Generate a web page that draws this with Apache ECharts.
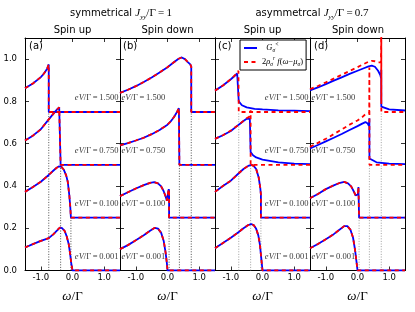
<!DOCTYPE html>
<html><head><meta charset="utf-8">
<script src="https://cdn.jsdelivr.net/npm/echarts@6/dist/echarts.min.js"></script>
<style>html,body{margin:0;padding:0;background:#fff}#c{width:415px;height:312px}</style>
</head><body><div id="c"></div>
<script>
// ---------- data ----------
const xTickVals = [-1.0, 0.0, 1.0];
const yTickVals = [0.0, 0.2, 0.4, 0.6, 0.8, 1.0];
const biasLabels = ['1.500', '0.750', '0.100', '0.001'];
const curveOffsets = [0.75, 0.5, 0.25, 0.0];
const muUp = [-0.75, -0.375, -0.05];
const muDown = [0.75, 0.375, 0.05];
const muLevels = [0.75, 0.5, 0.25];

// (a) symmetrical, spin up (G and 2rho f coincide)
const a1500 = [[-1.5,0.862],[-1.25,0.885],[-1.0,0.915],[-0.9,0.932],[-0.8,0.955],[-0.75,0.975],[-0.75,0.75],[1.5,0.75]];
const a0750 = [[-1.5,0.615],[-1.25,0.638],[-1.0,0.668],[-0.75,0.715],[-0.6,0.742],[-0.5,0.76],[-0.42,0.772],[-0.375,0.775],[-0.375,0.5],[1.5,0.5]];
const a0100 = [[-1.5,0.372],[-1.25,0.395],[-1.0,0.42],[-0.75,0.452],[-0.6,0.473],[-0.5,0.486],[-0.42,0.493],[-0.35,0.49],[-0.28,0.478],[-0.2,0.45],[-0.15,0.42],[-0.1,0.355],[-0.07,0.3],[-0.05,0.25],[1.5,0.25]];
const a0001 = [[-1.5,0.109],[-1.25,0.125],[-1.0,0.14],[-0.75,0.153],[-0.6,0.172],[-0.5,0.188],[-0.4,0.203],[-0.33,0.2],[-0.25,0.188],[-0.18,0.16],[-0.12,0.125],[-0.08,0.085],[-0.04,0.035],[0.0,0.0],[1.5,0.0]];
// (b) symmetrical, spin down
const b1500 = [[-1.5,0.84],[-1.25,0.855],[-1.0,0.872],[-0.75,0.892],[-0.5,0.913],[-0.25,0.937],[0.0,0.962],[0.2,0.985],[0.35,1.002],[0.45,1.008],[0.55,1.0],[0.65,0.985],[0.72,0.975],[0.75,0.965],[0.75,0.75],[1.5,0.75]];
const b0750 = [[-1.5,0.592],[-1.25,0.603],[-1.0,0.615],[-0.75,0.628],[-0.5,0.645],[-0.25,0.665],[0.0,0.69],[0.1,0.705],[0.2,0.725],[0.3,0.75],[0.36,0.768],[0.375,0.768],[0.375,0.5],[1.5,0.5]];
const b0100 = [[-1.5,0.352],[-1.25,0.37],[-1.0,0.388],[-0.75,0.404],[-0.55,0.415],[-0.42,0.418],[-0.3,0.412],[-0.2,0.398],[-0.12,0.375],[-0.06,0.35],[-0.02,0.33],[0.0,0.335],[0.02,0.37],[0.04,0.385],[0.05,0.375],[0.05,0.25],[1.5,0.25]];
const b0001 = [[-1.5,0.101],[-1.25,0.12],[-1.0,0.143],[-0.75,0.167],[-0.55,0.188],[-0.4,0.202],[-0.3,0.198],[-0.2,0.178],[-0.12,0.14],[-0.06,0.085],[-0.02,0.035],[0.0,0.0],[1.5,0.0]];
// (c) asymmetrical, spin up
const c1500G = [[-1.5,0.851],[-1.25,0.875],[-1.0,0.905],[-0.9,0.918],[-0.8,0.932],[-0.77,0.928],[-0.75,0.8],[-0.72,0.795],[-0.65,0.782],[-0.5,0.772],[-0.25,0.765],[0.0,0.762],[0.5,0.758],[1.0,0.756],[1.5,0.754]];
const c1500F = [[-1.5,0.851],[-1.25,0.875],[-1.0,0.905],[-0.9,0.92],[-0.8,0.935],[-0.76,0.945],[-0.75,0.75],[1.5,0.75]];
const c0750G = [[-1.5,0.623],[-1.25,0.64],[-1.0,0.66],[-0.75,0.69],[-0.6,0.707],[-0.5,0.718],[-0.45,0.722],[-0.4,0.718],[-0.375,0.71],[-0.375,0.56],[-0.35,0.555],[-0.3,0.545],[-0.2,0.535],[0.0,0.525],[0.5,0.512],[1.0,0.506],[1.5,0.503]];
const c0750F = [[-1.5,0.623],[-1.25,0.64],[-1.0,0.662],[-0.75,0.69],[-0.6,0.708],[-0.5,0.72],[-0.42,0.728],[-0.38,0.74],[-0.375,0.758],[-0.375,0.5],[1.5,0.5]];
const c0100 = [[-1.5,0.372],[-1.25,0.4],[-1.0,0.425],[-0.75,0.46],[-0.6,0.48],[-0.45,0.495],[-0.35,0.5],[-0.28,0.495],[-0.2,0.48],[-0.12,0.44],[-0.07,0.39],[-0.05,0.36],[-0.05,0.25],[1.5,0.25]];
const c0001 = [[-1.5,0.105],[-1.25,0.13],[-1.0,0.155],[-0.75,0.182],[-0.6,0.2],[-0.45,0.215],[-0.36,0.22],[-0.28,0.215],[-0.2,0.197],[-0.13,0.165],[-0.08,0.12],[-0.04,0.06],[0.0,0.0],[1.5,0.0]];
// (d) asymmetrical, spin down
const d1500G = [[-1.5,0.852],[-1.25,0.866],[-1.0,0.882],[-0.75,0.898],[-0.5,0.914],[-0.25,0.93],[0.0,0.945],[0.2,0.957],[0.35,0.966],[0.45,0.969],[0.55,0.964],[0.65,0.945],[0.72,0.925],[0.745,0.91],[0.75,0.95],[0.752,0.775],[0.8,0.768],[1.0,0.762],[1.5,0.757]];
const d1500F = [[-1.5,0.858],[-1.25,0.873],[-1.0,0.89],[-0.75,0.908],[-0.5,0.926],[-0.25,0.944],[0.0,0.962],[0.2,0.977],[0.35,0.988],[0.45,0.992],[0.55,0.99],[0.65,0.985],[0.74,0.985],[0.75,1.2],[0.751,0.8],[0.752,1.2],[0.753,0.75],[1.5,0.75]];
const d0750G = [[-1.5,0.577],[-1.25,0.594],[-1.0,0.611],[-0.75,0.628],[-0.5,0.646],[-0.25,0.665],[0.0,0.683],[0.15,0.695],[0.25,0.702],[0.32,0.695],[0.36,0.685],[0.375,0.72],[0.377,0.53],[0.4,0.522],[0.6,0.512],[1.0,0.506],[1.5,0.503]];
const d0750F = [[-1.5,0.585],[-1.25,0.604],[-1.0,0.623],[-0.75,0.645],[-0.5,0.667],[-0.25,0.69],[0.0,0.71],[0.15,0.726],[0.27,0.742],[0.33,0.74],[0.37,0.745],[0.375,0.96],[0.377,0.5],[1.5,0.5]];
const d0100 = [[-1.5,0.342],[-1.25,0.362],[-1.0,0.385],[-0.75,0.403],[-0.55,0.415],[-0.42,0.419],[-0.3,0.412],[-0.2,0.398],[-0.12,0.375],[-0.06,0.355],[-0.02,0.348],[0.01,0.36],[0.03,0.395],[0.045,0.39],[0.05,0.25],[1.5,0.25]];
const d0001 = [[-1.5,0.105],[-1.25,0.125],[-1.0,0.148],[-0.75,0.172],[-0.55,0.195],[-0.42,0.21],[-0.32,0.21],[-0.22,0.192],[-0.14,0.155],[-0.08,0.1],[-0.03,0.04],[0.0,0.0],[1.5,0.0]];

// ---------- layout / style ----------
const SERIF = 'Liberation Serif';
const SANS = 'DejaVu Sans';
const gridLefts = [25, 120, 215, 310];
const panels = [
  {G:[a1500,a0750,a0100,a0001], F:[a1500,a0750,a0100,a0001], mu:muUp,   dotColor:'#222', labX: 1.45, labPos:'left'},
  {G:[b1500,b0750,b0100,b0001], F:[b1500,b0750,b0100,b0001], mu:muDown, dotColor:'#222', labX:-1.45, labPos:'right'},
  {G:[c1500G,c0750G,c0100,c0001], F:[c1500F,c0750F,c0100,c0001], mu:muUp,   dotColor:'#888', labX: 1.45, labPos:'left'},
  {G:[d1500G,d0750G,d0100,d0001], F:[d1500F,d0750F,d0100,d0001], mu:muDown, dotColor:'#888', labX:-1.45, labPos:'right'}
];

const mathRich = {
  it: {fontFamily: SERIF, fontStyle: 'italic', fontSize: 8.5, color: '#000'},
  rm: {fontFamily: SERIF, fontSize: 8.5, color: '#000'}
};

const grids = [], xAxes = [], yAxes = [], series = [];
gridLefts.forEach((l, i) => {
  grids.push({left: l, width: 95, top: 38, bottom: 41.5, containLabel: false});
});
function xAx(i, pos) {
  const bottom = pos === 'bottom';
  return {
    type: 'value', gridIndex: i, position: pos, min: -1.5, max: 1.5, interval: 0.5,
    axisLine: {show: true, onZero: false, lineStyle: {color: '#000', width: 1}},
    axisTick: {show: true, inside: true, length: 4, customValues: xTickVals, lineStyle: {color: '#000', width: 0.8}},
    axisLabel: {show: bottom, customValues: xTickVals, formatter: v => v.toFixed(1), fontSize: 8.5, fontFamily: SANS, color: '#000', margin: 3},
    splitLine: {show: false},
    name: bottom ? '{i|ω}{r|/Γ}' : '', nameLocation: 'middle', nameGap: 20,
    nameTextStyle: {rich: {i: {fontFamily: SERIF, fontStyle: 'italic', fontSize: 13, color: '#000'}, r: {fontFamily: SERIF, fontSize: 13, color: '#000'}}}
  };
}
function yAx(i, pos) {
  const left = pos === 'left';
  return {
    type: 'value', gridIndex: i, position: pos, min: 0, max: 1.1, interval: 0.2,
    axisLine: {show: true, onZero: false, lineStyle: {color: '#000', width: 1}},
    axisTick: {show: true, inside: true, length: 4, customValues: yTickVals, lineStyle: {color: '#000', width: 0.8}},
    axisLabel: {show: left && i === 0, customValues: yTickVals, formatter: v => v.toFixed(1), fontSize: 8.5, fontFamily: SANS, color: '#000', margin: 8},
    splitLine: {show: false}
  };
}
for (let i = 0; i < 4; i++) { xAxes.push(xAx(i, 'bottom')); yAxes.push(yAx(i, 'left')); }
for (let i = 0; i < 4; i++) { xAxes.push(xAx(i, 'top')); yAxes.push(yAx(i, 'right')); }

panels.forEach((p, i) => {
  p.mu.forEach((m, k) => {
    series.push({type: 'line', xAxisIndex: i, yAxisIndex: i, silent: true, symbol: 'none', z: 1,
      data: [[m, 0], [m, muLevels[k]]],
      lineStyle: {color: p.dotColor, width: 0.8, type: [1, 1.6]}});
  });
  p.G.forEach(d => {
    series.push({name: 'G', type: 'line', xAxisIndex: i, yAxisIndex: i, data: d, symbol: 'none', showSymbol: false, z: 2,
      color: '#0000ff', lineStyle: {color: '#0000ff', width: 1.8}});
  });
  p.F.forEach(d => {
    series.push({name: 'F', type: 'line', xAxisIndex: i, yAxisIndex: i, data: d, symbol: 'none', showSymbol: false, z: 3,
      color: '#ff0000', lineStyle: {color: '#ff0000', width: 1.8, type: [4, 3.5]}});
  });
  series.push({type: 'scatter', xAxisIndex: i, yAxisIndex: i, silent: true, symbolSize: 0, z: 4,
    data: biasLabels.map((b, k) => ({value: [p.labX, curveOffsets[k] + 0.065], txt: b})),
    label: {show: true, position: p.labPos, distance: 0,
      formatter: prm => '{it|eV}{rm|/Γ\u2009=\u2009' + prm.data.txt + '}', rich: mathRich}});
});

const titleRich = {
  s: {fontFamily: SANS, fontSize: 10, fill: '#000'},
  m: {fontFamily: SERIF, fontStyle: 'italic', fontSize: 11, fill: '#000'},
  sb: {fontFamily: SERIF, fontStyle: 'italic', fontSize: 7, fill: '#000', verticalAlign: 'bottom', lineHeight: 15},
  r: {fontFamily: SERIF, fontSize: 11, fill: '#000'}
};
function gtext(x, y, text, opts) {
  return {type: 'text', x: x, y: y, silent: true,
    style: Object.assign({text: text, align: 'center', verticalAlign: 'middle', fill: '#000', font: '10px "DejaVu Sans"'}, opts || {})};
}
const graphics = [
  gtext(121, 13, '{s|symmetrical }{m|J}{sb|yy}{r|/Γ\u2009=\u20091}', {rich: titleRich}),
  gtext(312, 13, '{s|asymmetrcal }{m|J}{sb|yy}{r|/Γ\u2009=\u20090.7}', {rich: titleRich}),
  gtext(72.5, 30, 'Spin up'), gtext(167.5, 30, 'Spin down'),
  gtext(262.5, 30, 'Spin up'), gtext(358, 30, 'Spin down'),
  gtext(29, 46, '(a)', {align: 'left'}), gtext(123, 46, '(b)', {align: 'left'}),
  gtext(218, 46, '(c)', {align: 'left'}), gtext(314, 46, '(d)', {align: 'left'})
];

const legRich = {
  gi: {fontFamily: SERIF, fontStyle: 'italic', fontSize: 8.5, color: '#000', lineHeight: 12},
  rm: {fontFamily: SERIF, fontSize: 8.5, color: '#000', lineHeight: 12},
  sub: {fontFamily: SERIF, fontStyle: 'italic', fontSize: 5.5, color: '#000', verticalAlign: 'bottom'},
  sup: {fontFamily: SERIF, fontStyle: 'italic', fontSize: 5.5, color: '#000', verticalAlign: 'top'}
};

const chart = echarts.init(document.getElementById('c'));
chart.setOption({
  animation: false,
  backgroundColor: '#fff',
  grid: grids, xAxis: xAxes, yAxis: yAxes, series: series,
  legend: {
    data: ['G', 'F'], left: 240, top: 40, orient: 'vertical', itemWidth: 13, itemHeight: 8, itemGap: 2,
    padding: [2, 3, 2, 3], borderColor: '#000', borderWidth: 1, backgroundColor: '#fff', selectedMode: false,
    itemStyle: {opacity: 0},
    textStyle: {rich: legRich},
    formatter: n => n === 'G' ? '{gi|  G}{sub|σ}{sup|<}'
      : '{rm|2}{gi|ρ}{sub|σ}{sup|r}{gi| f}{rm|(}{gi|ω}{rm|−}{gi|μ}{sub|σ}{rm|)}'
  },
  graphic: graphics
});
</script></body></html>
